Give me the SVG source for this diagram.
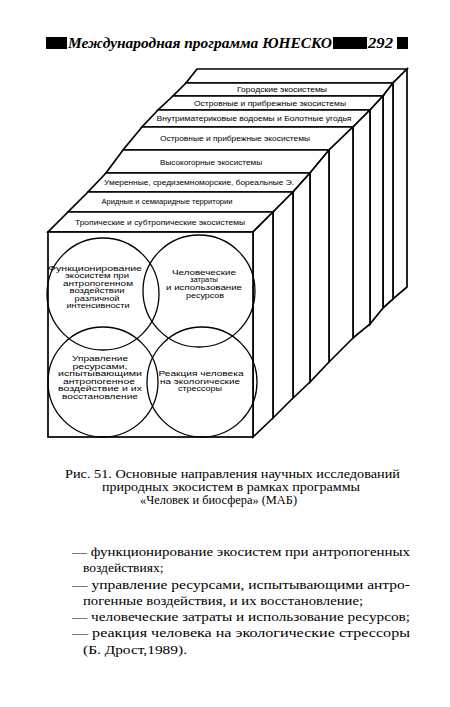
<svg xmlns="http://www.w3.org/2000/svg" width="450" height="707" viewBox="0 0 450 707">
<style>
.face{fill:#fff;stroke:#000;stroke-width:1.7;stroke-linejoin:miter}
.circ{fill:none;stroke:#000;stroke-width:1.3}
.lab{font-family:"Liberation Sans",Arial,sans-serif;font-size:7.5px;text-anchor:middle;fill:#000}
.ct{font-family:"Liberation Sans",Arial,sans-serif;font-size:7.4px;text-anchor:middle;fill:#000}
.hd{font-family:"Liberation Serif","Times New Roman",serif;font-weight:bold;font-style:italic;font-size:15px;fill:#000}
.cap{font-family:"Liberation Serif","Times New Roman",serif;font-size:12px;fill:#000}
.body{font-family:"Liberation Serif","Times New Roman",serif;font-size:13.5px;fill:#000}
</style>
<rect width="450" height="707" fill="#fff"/>
<g id="header">
<rect x="46" y="37" width="21" height="12" fill="#000"/>
<text class="hd" x="68" y="48" textLength="264" lengthAdjust="spacingAndGlyphs">Международная программа ЮНЕСКО</text>
<rect x="333" y="37" width="34" height="12" fill="#000"/>
<text class="hd" x="368" y="48" textLength="25" lengthAdjust="spacingAndGlyphs">292</text>
<rect x="397" y="37" width="11" height="12" fill="#000"/>
</g>
<g id="layer9">
<polygon class="face" points="186,83 393,83 407,69 197,69"/>
<polygon class="face" points="393,83 407,69 407,287 393,299"/>
</g>
<g id="layer8">
<polygon class="face" points="173,96 383,96 393,83 186,83"/>
<polygon class="face" points="383,96 393,83 393,299 383,308"/>
<text class="lab" x="282" y="91.5" textLength="90" lengthAdjust="spacingAndGlyphs">Городские экосистемы</text>
</g>
<g id="layer7">
<polygon class="face" points="158,110 370,110 383,96 173,96"/>
<polygon class="face" points="370,110 383,96 383,308 370,324"/>
<text class="lab" x="270" y="106" textLength="152" lengthAdjust="spacingAndGlyphs">Островные и прибрежные экосистемы</text>
</g>
<g id="layer6">
<polygon class="face" points="142,127 353,127 370,110 158,110"/>
<polygon class="face" points="353,127 370,110 370,324 353,338"/>
<text class="lab" x="254" y="121" textLength="195" lengthAdjust="spacingAndGlyphs">Внутриматериковые водоемы и Болотные угодья</text>
</g>
<g id="layer5">
<polygon class="face" points="123,150 329,150 353,127 142,127"/>
<polygon class="face" points="329,150 353,127 353,338 329,362"/>
<text class="lab" x="235" y="141" textLength="150" lengthAdjust="spacingAndGlyphs">Островные и прибрежные экосистемы</text>
</g>
<g id="layer4">
<polygon class="face" points="106,173 310,173 329,150 123,150"/>
<polygon class="face" points="310,173 329,150 329,362 310,382"/>
<text class="lab" x="211" y="164.5" textLength="102" lengthAdjust="spacingAndGlyphs">Высокогорные экосистемы</text>
</g>
<g id="layer3">
<polygon class="face" points="88,192 293,192 310,173 106,173"/>
<polygon class="face" points="293,192 310,173 310,382 293,398"/>
<text class="lab" x="199" y="185" textLength="190" lengthAdjust="spacingAndGlyphs">Умеренные, средиземноморские, бореальные Э.</text>
</g>
<g id="layer2">
<polygon class="face" points="68,212 273,212 293,192 88,192"/>
<polygon class="face" points="273,212 293,192 293,398 273,418"/>
<text class="lab" x="167" y="204" textLength="131" lengthAdjust="spacingAndGlyphs">Аридные и семиаридные территории</text>
</g>
<g id="layer1">
<polygon class="face" points="48,232 253,232 273,212 68,212"/>
<polygon class="face" points="253,232 273,212 273,418 253,437"/>
<text class="lab" x="160" y="224.5" textLength="170" lengthAdjust="spacingAndGlyphs">Тропические и субтропические экосистемы</text>
<rect class="face" x="48" y="232" width="205" height="205"/>
</g>
<g id="connectors"></g>
<g id="circle-functioning">
<circle class="circ" cx="103" cy="294" r="56"/>
<text class="ct" x="95" y="270.5" textLength="94" lengthAdjust="spacingAndGlyphs">Функционирование</text>
<text class="ct" x="97" y="278" textLength="64" lengthAdjust="spacingAndGlyphs">экосистем при</text>
<text class="ct" x="98" y="285.5" textLength="70" lengthAdjust="spacingAndGlyphs">антропогенном</text>
<text class="ct" x="97" y="293" textLength="55" lengthAdjust="spacingAndGlyphs">воздействии</text>
<text class="ct" x="97" y="300.5" textLength="45" lengthAdjust="spacingAndGlyphs">различной</text>
<text class="ct" x="98" y="308" textLength="63" lengthAdjust="spacingAndGlyphs">интенсивности</text>
</g>
<g id="circle-costs">
<circle class="circ" cx="199" cy="291" r="56"/>
<text class="ct" x="204" y="274.5" textLength="64" lengthAdjust="spacingAndGlyphs">Человеческие</text>
<text class="ct" x="204" y="282.2" textLength="28" lengthAdjust="spacingAndGlyphs">затраты</text>
<text class="ct" x="204" y="289.9" textLength="76" lengthAdjust="spacingAndGlyphs">и использование</text>
<text class="ct" x="205" y="297.6" textLength="38" lengthAdjust="spacingAndGlyphs">ресурсов</text>
</g>
<g id="circle-management">
<circle class="circ" cx="103" cy="382" r="55"/>
<text class="ct" x="100" y="361" textLength="56" lengthAdjust="spacingAndGlyphs">Управление</text>
<text class="ct" x="100" y="368.5" textLength="55" lengthAdjust="spacingAndGlyphs">ресурсами,</text>
<text class="ct" x="100" y="376" textLength="84" lengthAdjust="spacingAndGlyphs">испытывающими</text>
<text class="ct" x="99" y="383.5" textLength="72" lengthAdjust="spacingAndGlyphs">антропогенное</text>
<text class="ct" x="100" y="391" textLength="84" lengthAdjust="spacingAndGlyphs">воздействие и их</text>
<text class="ct" x="100" y="398.5" textLength="76" lengthAdjust="spacingAndGlyphs">восстановление</text>
</g>
<g id="circle-reaction">
<circle class="circ" cx="202" cy="382" r="55"/>
<text class="ct" x="201" y="376" textLength="85" lengthAdjust="spacingAndGlyphs">Реакция человека</text>
<text class="ct" x="200" y="383.5" textLength="80" lengthAdjust="spacingAndGlyphs">на экологические</text>
<text class="ct" x="200" y="391" textLength="44" lengthAdjust="spacingAndGlyphs">стрессоры</text>
</g>
<g id="caption">
<text class="cap" x="65" y="478" textLength="335" lengthAdjust="spacingAndGlyphs">Рис. 51. Основные направления научных исследований</text>
<text class="cap" x="102" y="491" textLength="258" lengthAdjust="spacingAndGlyphs">природных экосистем в рамках программы</text>
<text class="cap" x="140" y="504" textLength="157" lengthAdjust="spacingAndGlyphs">«Человек и биосфера» (МАБ)</text>
</g>
<g id="body-text">
<text class="body" x="72" y="556" textLength="338" lengthAdjust="spacingAndGlyphs">— функционирование экосистем при антропогенных</text>
<text class="body" x="83" y="572">воздействиях;</text>
<text class="body" x="72" y="589" textLength="338" lengthAdjust="spacingAndGlyphs">— управление ресурсами, испытывающими антро-</text>
<text class="body" x="83" y="605" textLength="280" lengthAdjust="spacingAndGlyphs">погенные воздействия, и их восстановление;</text>
<text class="body" x="72" y="621" textLength="338" lengthAdjust="spacingAndGlyphs">— человеческие затраты и использование ресурсов;</text>
<text class="body" x="72" y="637" textLength="338" lengthAdjust="spacingAndGlyphs">— реакция человека на экологические стрессоры</text>
<text class="body" x="83" y="654" textLength="104" lengthAdjust="spacingAndGlyphs">(Б. Дрост,1989).</text>
</g>
</svg>
